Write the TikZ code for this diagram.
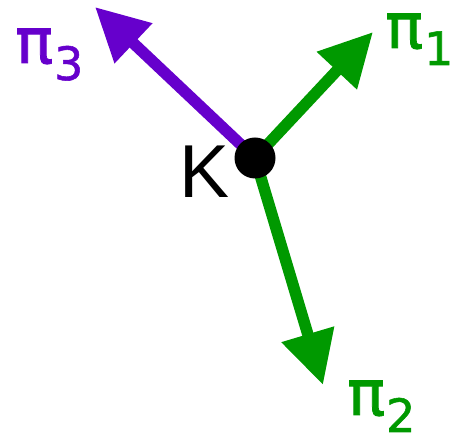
\documentclass[tikz,border=0pt]{standalone}
\usepackage{fontspec}
\setmainfont{Liberation Sans}
\newfontfamily\labfont[FakeBold=1.2]{DejaVu Sans}
\usetikzlibrary{arrows.meta}
\definecolor{kpurple}{RGB}{102,0,204}
\definecolor{kgreen}{RGB}{0,153,0}
\tikzset{
  vec/.style={line width=11.5pt, -{Triangle[length=53pt,width=52pt]}},
  dot/.style={circle, fill=black, minimum size=41pt, inner sep=0pt},
  pilab/.style={inner sep=0pt, anchor=base west, font=\labfont\fontsize{63}{63}\selectfont},
}
\newcommand{\pisub}[1]{π\hspace{1pt}\raisebox{-17pt}{\fontsize{46}{46}\selectfont #1}}
\begin{document}
\begin{tikzpicture}[x=1pt,y=1pt]
\useasboundingbox (0,0) rectangle (454,443);
\coordinate (K0) at (255,285);
\coordinate (t1) at (373,411);
\coordinate (t2) at (323,58);
\coordinate (t3) at (95,436);
\draw[vec, kpurple] (K0) -- (t3);
\draw[vec, kgreen] (K0) -- (t1);
\draw[vec, kgreen] (K0) -- (t2);
\node[dot] (K) at (K0) {};
\node[inner sep=0pt, font=\fontsize{75}{75}\selectfont] (Klab) at (205,271) {K};
\node[pilab, kpurple] (p3) at (15,380) {\pisub{3}};
\node[pilab, kgreen] (p1) at (385,395) {\pisub{1}};
\node[pilab, kgreen] (p2) at (347,28) {\pisub{2}};
\end{tikzpicture}
\end{document}
